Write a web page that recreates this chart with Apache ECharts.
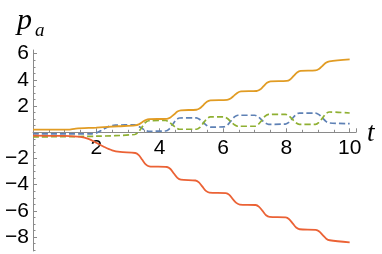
<!DOCTYPE html>
<html>
<head>
<meta charset="utf-8">
<script src="https://cdn.jsdelivr.net/npm/echarts@6/dist/echarts.min.js"></script>
<style>
html,body{margin:0;padding:0;background:#fff;}
#c{width:382px;height:254px;}
</style>
</head>
<body>
<div id="c"></div>
<script>
// Orange (solid)
var tOrange = [0, 1.1, 1.35, 2.0, 2.7, 3.23, 3.34, 3.45, 3.56, 3.67, 4.23, 4.34, 4.45, 4.56, 4.67, 5.16, 5.27, 5.38, 5.49, 5.6, 6.13, 6.24, 6.35, 6.46, 6.57, 7.06, 7.17, 7.28, 7.39, 7.5, 8.01, 8.12, 8.23, 8.34, 8.45, 8.92, 9.03, 9.14, 9.25, 9.36, 10];
var orange = [0.2, 0.2, 0.28, 0.36, 0.46, 0.53, 0.6, 0.77, 0.93, 1.0, 1.03, 1.13, 1.35, 1.58, 1.68, 1.72, 1.83, 2.08, 2.33, 2.44, 2.48, 2.58, 2.8, 3.02, 3.12, 3.15, 3.26, 3.52, 3.78, 3.89, 3.92, 4.03, 4.3, 4.57, 4.68, 4.72, 4.83, 5.07, 5.31, 5.42, 5.56];
// Red (solid)
var tRed = [0, 1.0, 1.5, 1.75, 2.0, 2.25, 2.5, 2.75, 3.23, 3.34, 3.45, 3.56, 3.67, 4.23, 4.34, 4.45, 4.56, 4.67, 5.13, 5.24, 5.35, 5.46, 5.57, 6.09, 6.2, 6.31, 6.42, 6.53, 7.03, 7.14, 7.25, 7.36, 7.47, 7.98, 8.09, 8.2, 8.31, 8.42, 8.93, 9.04, 9.15, 9.26, 9.37, 10];
var red = [-0.25, -0.28, -0.35, -0.5, -0.8, -1.12, -1.38, -1.5, -1.58, -1.74, -2.1, -2.45, -2.6, -2.65, -2.8, -3.15, -3.48, -3.62, -3.68, -3.82, -4.15, -4.47, -4.6, -4.64, -4.78, -5.1, -5.39, -5.52, -5.55, -5.69, -6.0, -6.33, -6.46, -6.5, -6.64, -6.95, -7.27, -7.4, -7.45, -7.57, -7.85, -8.12, -8.24, -8.4];
// Blue (dashed)
var tBlue = [0, 1.85, 2.0, 2.2, 2.4, 2.6, 3.21, 3.32, 3.43, 3.54, 3.65, 4.19, 4.3, 4.41, 4.52, 4.63, 5.16, 5.27, 5.38, 5.49, 5.6, 6.03, 6.14, 6.25, 6.36, 6.47, 7.0, 7.11, 7.22, 7.33, 7.44, 7.97, 8.08, 8.19, 8.3, 8.41, 8.92, 9.03, 9.14, 9.25, 9.36, 10];
var blue = [-0.12, -0.12, -0.05, 0.2, 0.45, 0.55, 0.56, 0.48, 0.32, 0.15, 0.08, 0.1, 0.25, 0.6, 0.95, 1.09, 1.1, 0.97, 0.75, 0.52, 0.4, 0.42, 0.55, 0.86, 1.17, 1.3, 1.3, 1.18, 0.95, 0.72, 0.61, 0.63, 0.76, 1.05, 1.34, 1.47, 1.47, 1.35, 1.1, 0.83, 0.71, 0.66];
// Green (dashed)
var tGreen = [0, 2.0, 3.21, 3.32, 3.43, 3.54, 3.65, 4.19, 4.3, 4.41, 4.52, 4.63, 5.16, 5.27, 5.38, 5.49, 5.6, 6.03, 6.14, 6.25, 6.36, 6.47, 7.0, 7.11, 7.22, 7.33, 7.44, 7.97, 8.08, 8.19, 8.3, 8.41, 8.92, 9.03, 9.14, 9.25, 9.36, 10];
var green = [-0.35, -0.3, -0.17, 0.0, 0.35, 0.72, 0.88, 0.9, 0.78, 0.56, 0.34, 0.23, 0.23, 0.37, 0.7, 1.03, 1.17, 1.17, 1.05, 0.8, 0.57, 0.46, 0.46, 0.6, 0.9, 1.23, 1.37, 1.37, 1.25, 1.0, 0.73, 0.61, 0.61, 0.76, 1.08, 1.42, 1.55, 1.47];

var yMajorTicks = [-8, -6, -4, -2, 2, 4, 6];
var yMinorTicks = [-9, -8.5, -7.5, -7, -6.5, -5.5, -5, -4.5, -3.5, -3, -2.5, -1.5, -1, -0.5, 0.5, 1, 1.5, 2.5, 3, 3.5, 4.5, 5, 5.5];
var xLabels = [2, 4, 6, 8, 10];

var X_MIN = 0, X_MAX = 10.2, Y_MIN = -9.06, Y_MAX = 6.28;

function pairs(t, v) { return t.map(function (x, i) { return [x, v[i]]; }); }
function fmt(v) { return v < 0 ? '\u2212' + Math.abs(v) : String(v); }

var W = 382, H = 254, TOP = 50, BOTTOM = 3, LEFT = 33, RIGHT = 26;
var plotH = H - TOP - BOTTOM;
var zeroY = TOP + plotH * Y_MAX / (Y_MAX - Y_MIN);

var axisColor = '#8a8a8a';
var labelFont = { color: '#000', fontSize: 21, fontFamily: 'Liberation Sans' };

var chart = echarts.init(document.getElementById('c'), null, { renderer: 'canvas' });
var lineBase = { type: 'line', showSymbol: false, smooth: 0.3, xAxisIndex: 0, yAxisIndex: 0 };
chart.setOption({
  animation: false,
  grid: [
    { left: LEFT, right: RIGHT, top: TOP, bottom: BOTTOM, containLabel: false },
    { left: LEFT, right: RIGHT, top: TOP, height: zeroY - TOP, containLabel: false }
  ],
  xAxis: [{
    gridIndex: 0, type: 'value', min: X_MIN, max: X_MAX, show: false
  }, {
    gridIndex: 1, type: 'value', min: X_MIN, max: X_MAX, interval: 2, position: 'bottom',
    axisLine: { show: true, onZero: false, lineStyle: { color: axisColor, width: 1 } },
    axisTick: { show: true, inside: true, length: 4, lineStyle: { color: axisColor } },
    minorTick: { show: true, splitNumber: 4, length: 2.5, lineStyle: { color: axisColor } },
    splitLine: { show: false },
    axisLabel: Object.assign({ margin: 5, formatter: function (v) { return xLabels.indexOf(v) >= 0 ? fmt(v) : ''; } }, labelFont)
  }],
  yAxis: [{
    gridIndex: 0, type: 'value', min: Y_MIN, max: Y_MAX,
    axisLine: { show: true, lineStyle: { color: axisColor, width: 1 } },
    axisTick: { show: true, inside: true, length: 4, customValues: yMajorTicks, lineStyle: { color: axisColor } },
    splitLine: { show: false },
    axisLabel: Object.assign({ margin: 4, customValues: yMajorTicks, formatter: function (v) { return fmt(v); } }, labelFont)
  }, {
    gridIndex: 0, type: 'value', min: Y_MIN, max: Y_MAX, position: 'left',
    axisLine: { show: false },
    axisTick: { show: true, inside: true, length: 2.5, customValues: yMinorTicks, lineStyle: { color: axisColor } },
    splitLine: { show: false },
    axisLabel: { show: false }
  }, {
    gridIndex: 1, type: 'value', min: 0, max: Y_MAX, show: false
  }],
  series: [
    Object.assign({}, lineBase, { data: pairs(tBlue, blue), lineStyle: { color: '#5E81B5', width: 1.7, type: [6, 3] }, z: 3 }),
    Object.assign({}, lineBase, { data: pairs(tGreen, green), lineStyle: { color: '#8FB032', width: 1.7, type: [6, 3] }, z: 3 }),
    Object.assign({}, lineBase, { data: pairs(tOrange, orange), lineStyle: { color: '#E19C24', width: 1.8 }, z: 4 }),
    Object.assign({}, lineBase, { data: pairs(tRed, red), lineStyle: { color: '#EB6235', width: 1.8 }, z: 4 })
  ],
  graphic: [
    { type: 'text', left: 17, top: 6, style: { text: 'p', fontSize: 30, fontStyle: 'italic', fontFamily: 'Liberation Serif', fill: '#000' } },
    { type: 'text', left: 35, top: 21, style: { text: 'a', fontSize: 19, fontStyle: 'italic', fontFamily: 'Liberation Serif', fill: '#000' } },
    { type: 'text', left: 367, top: 120, style: { text: 't', fontSize: 27, fontStyle: 'italic', fontFamily: 'Liberation Serif', fill: '#000' } }
  ]
});
</script>
</body>
</html>
